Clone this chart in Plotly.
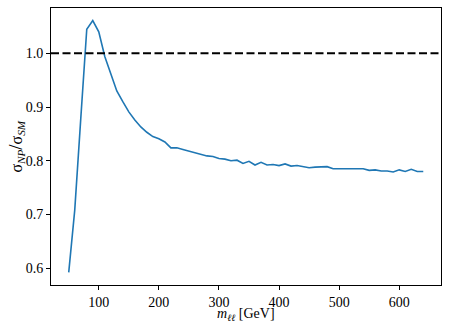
import plotly.graph_objects as go

# dilepton invariant mass bins [GeV]
m_ll = list(range(50, 641, 10))

# ratio sigma_NP / sigma_SM
ratio = [0.592, 0.708, 0.878, 1.045, 1.061, 1.040, 0.994, 0.960, 0.930, 0.910,
         0.891, 0.876, 0.863, 0.853, 0.845, 0.841, 0.835, 0.824, 0.824, 0.821,
         0.818, 0.815, 0.811, 0.809, 0.808, 0.804, 0.803, 0.800, 0.801, 0.795,
         0.799, 0.792, 0.797, 0.792, 0.793, 0.791, 0.794, 0.790, 0.791, 0.789,
         0.787, 0.788, 0.788, 0.789, 0.785, 0.785, 0.785, 0.784, 0.784, 0.785,
         0.782, 0.783, 0.781, 0.781, 0.779, 0.783, 0.780, 0.784, 0.780, 0.780]

x_ticks = [100, 200, 300, 400, 500, 600]
y_ticks = [0.6, 0.7, 0.8, 0.9, 1.0]

serif = 'Liberation Serif'

fig = go.Figure()

fig.add_trace(go.Scatter(x=m_ll, y=ratio, mode='lines',
                         line=dict(color='#1f77b4', width=1.6),
                         showlegend=False))

# linha de referencia SM
fig.add_shape(type='line', xref='paper', yref='y', x0=0, x1=1, y0=1.0, y1=1.0,
              line=dict(color='black', width=2, dash='8px,3.5px'))

# margens de 5% como no matplotlib
xpad = 0.05 * (max(m_ll) - min(m_ll))
ypad = 0.05 * (max(ratio) - min(ratio))

axis_style = dict(showgrid=False, zeroline=False, showline=True, linecolor='black',
                  linewidth=1, mirror=True, ticks='outside', ticklen=4,
                  tickcolor='black', automargin=False,
                  tickfont=dict(family=serif, size=14, color='black'))

fig.update_xaxes(range=[min(m_ll) - xpad, max(m_ll) + xpad], tickvals=x_ticks, **axis_style)
fig.update_yaxes(range=[min(ratio) - ypad, max(ratio) + ypad], tickvals=y_ticks,
                 tickformat='.1f', **axis_style)

# titulos dos eixos como anotacoes para controlar a posicao
fig.add_annotation(text='<i>m</i><sub><i>ℓℓ</i></sub> [GeV]', xref='paper', yref='paper',
                   x=0.5, y=-0.108, xanchor='center', yanchor='middle', showarrow=False,
                   font=dict(family=serif, size=14, color='black'))
fig.add_annotation(text='σ<sub><i>NP</i></sub><span style="font-size:19px">/</span>σ<sub><i>SM</i></sub>',
                   xref='paper', yref='paper', x=-0.092, y=0.5, textangle=-90,
                   xanchor='center', yanchor='middle', showarrow=False,
                   font=dict(family=serif, size=16, color='black'))

fig.update_layout(width=449, height=324,
                  margin=dict(l=51, r=8, t=8, b=39),
                  plot_bgcolor='white', paper_bgcolor='white',
                  font=dict(family=serif, color='black'))

# tira a margem padrao do body para a figura ficar no canto
fig.write_html('out.html', config={'displayModeBar': False},
               post_script="document.body.style.margin='0px';")
